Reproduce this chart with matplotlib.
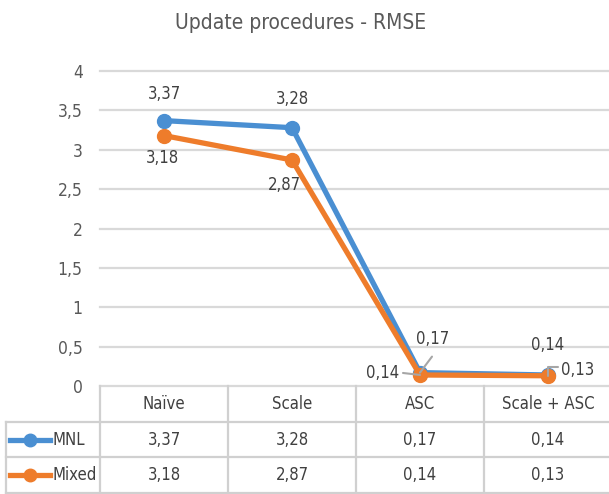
import numpy as np
import matplotlib
matplotlib.use('Agg')
import matplotlib.pyplot as plt
import matplotlib.transforms as mtransforms

plt.rcParams['font.family'] = ['DejaVu Sans']
plt.rcParams['font.stretch'] = 'condensed'

categories = ['Naïve', 'Scale', 'ASC', 'Scale + ASC']
series_names = ['MNL', 'Mixed']
mnl = [3.37, 3.28, 0.17, 0.14]
mixed = [3.18, 2.87, 0.14, 0.13]
y_ticks = [0, 0.5, 1, 1.5, 2, 2.5, 3, 3.5, 4]

colors = ['#4A8FD2', '#EE7C2B']
text_col = '#404040'
grid_col = '#D9D9D9'

def fmt(v):
    return ('%g' % v).replace('.', ',')

fig = plt.figure(figsize=(6.09, 4.94), dpi=100)
W, H = 609, 494
left, right, top, bottom = 100, 612, 71, 386
ax = fig.add_axes([left / W, 1 - bottom / H, (right - left) / W, (bottom - top) / H])
ax.set_xlim(-0.5, 3.5)
ax.set_ylim(0, 4)
for s in ax.spines.values():
    s.set_visible(False)
ax.set_xticks([])
ax.set_yticks(y_ticks)
ax.set_yticklabels([fmt(t) for t in y_ticks], color='#595959', fontsize=12.5)
ax.tick_params(axis='y', length=0, pad=12.5)
for t in y_ticks:
    ax.axhline(t, color=grid_col, lw=1.6, zorder=0, clip_on=False)

x = np.arange(len(categories))
for vals, c in zip([mnl, mixed], colors):
    ax.plot(x, vals, color=c, lw=3.8, marker='o', ms=10, zorder=3,
            solid_joinstyle='round')

# data labels (offsets in pixels)
mnl_off = [(0, 27), (0, 29), (13, 34), (0, 30)]
mixed_off = [(-2, -22), (-8, -25), (-37, 2), (30, 6)]
for vals, offs in [(mnl, mnl_off), (mixed, mixed_off)]:
    for xi, v, (dx, dy) in zip(x, vals, offs):
        ax.annotate(fmt(v), (xi, v), xytext=(dx, dy), textcoords='offset pixels',
                    ha='center', va='center', fontsize=12, color=text_col, zorder=5)

# leader lines for the crowded labels
lead = '#A6A6A6'
ax.annotate('', (x[2], mnl[2]), xytext=(12, 16), textcoords='offset pixels',
            arrowprops=dict(arrowstyle='-', color=lead, lw=1.5, shrinkA=0, shrinkB=0))
ax.annotate('', (x[2], mixed[2]), xytext=(-17, 2), textcoords='offset pixels',
            arrowprops=dict(arrowstyle='-', color=lead, lw=1.5, shrinkA=0, shrinkB=0))
ax.annotate('', (x[3], mixed[3]), xytext=(10, 9), textcoords='offset pixels',
            arrowprops=dict(arrowstyle='-', color=lead, lw=1.5, shrinkA=0, shrinkB=0,
                            connectionstyle='angle,angleA=0,angleB=90,rad=0'))

# data table below the plot
trans = mtransforms.blended_transform_factory(ax.transData, ax.transAxes)
ax_h = bottom - top
row_edges = [0, -36 / ax_h, -71 / ax_h, -107 / ax_h]
leg_left = -0.5 - 94 / ((right - left) / 4)
tab_col = '#D0D0D0'
for r in row_edges[1:]:
    ax.plot([leg_left, 3.5], [r, r], color=tab_col, lw=1.6, transform=trans, clip_on=False)
for xv in np.arange(-0.5, 4, 1):
    ax.plot([xv, xv], [0, row_edges[-1]], color=tab_col, lw=1.6, transform=trans, clip_on=False)
ax.plot([leg_left, leg_left], [row_edges[1], row_edges[-1]], color=tab_col, lw=1.6,
        transform=trans, clip_on=False)

for xi, cat in zip(x, categories):
    ax.text(xi, (row_edges[0] + row_edges[1]) / 2, cat, transform=trans, ha='center',
            va='center', fontsize=12, color=text_col)
for k, (name, vals, c) in enumerate(zip(series_names, [mnl, mixed], colors)):
    yc = (row_edges[k + 1] + row_edges[k + 2]) / 2
    for xi, v in zip(x, vals):
        ax.text(xi, yc, fmt(v), transform=trans, ha='center', va='center',
                fontsize=12, color=text_col)
    ax.plot([leg_left + 0.03, leg_left + 0.34], [yc, yc], color=c, lw=3.8,
            transform=trans, clip_on=False)
    ax.plot([leg_left + 0.185], [yc], color=c, marker='o', ms=9,
            transform=trans, clip_on=False)
    ax.text(leg_left + 0.36, yc, name, transform=trans, ha='left', va='center',
            fontsize=12, color=text_col)

fig.text(0.493, 1 - 23 / H, 'Update procedures - RMSE', ha='center', va='center',
         fontsize=15, color='#595959')

fig.savefig('out.png', dpi=100)
